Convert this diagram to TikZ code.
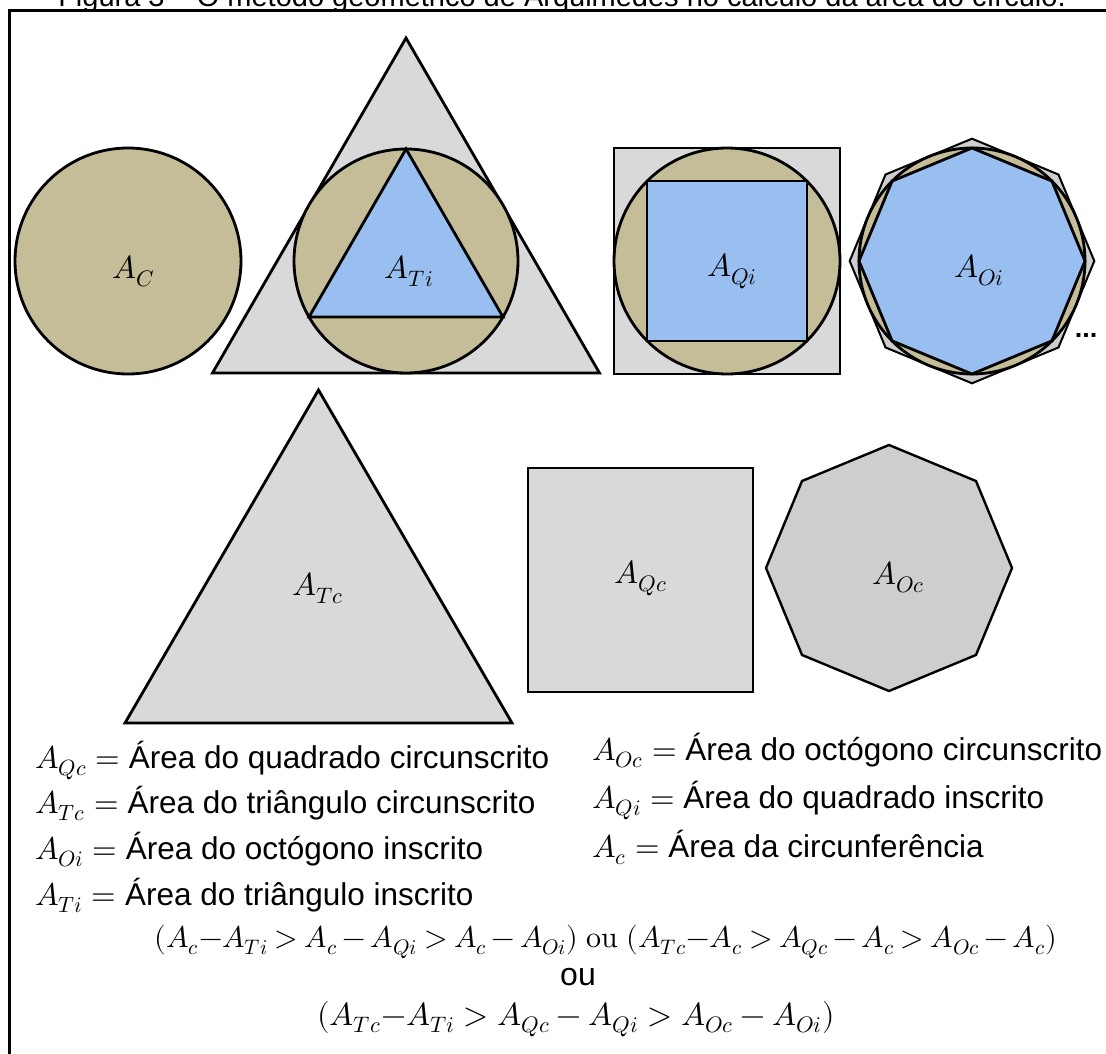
\documentclass[tikz,border=0pt]{standalone}
\usepackage{fontspec}
\usepackage{unicode-math}
\setmainfont{Liberation Sans}
\setmathfont{Latin Modern Math}
\definecolor{circtan}{RGB}{196,189,151}
\definecolor{inblue}{RGB}{153,191,240}
\definecolor{outgrey}{RGB}{217,217,217}
\definecolor{octgrey}{RGB}{206,206,206}
\begin{document}
\begin{tikzpicture}[x=1pt,y=-1pt,
  fig/.style={draw=black,line width=2.8pt,line join=miter},
  lbl/.style={font=\fontsize{32}{38}\selectfont,inner sep=0pt},
  txt/.style={font=\fontsize{31.5}{38}\selectfont,anchor=base west,inner sep=0pt}]
\useasboundingbox (0,0) rectangle (1106,1054);
\fill[white] (0,0) rectangle (1106,1054);
% frame and (cut) title
\draw[line width=3.5pt] (9.5,10.7) rectangle (1130,1080);
\node[anchor=base,font=\fontsize{29}{34}\selectfont,inner sep=0pt] (title) at (562,7)
  {Figura 3 – O método geométrico de Arquimedes no cálculo da área do círculo.};
% circle A_C
\draw[fig,fill=circtan] (128,261) circle[radius=113];
% triangle group
\draw[fig,fill=outgrey] (212.5,373) -- (599.5,373) -- (406,38) -- cycle;
\draw[fig,fill=circtan] (406,261) circle[radius=112];
\draw[fig,fill=inblue] (309,317) -- (503,317) -- (406,149) -- cycle;
% square group
\draw[fig,fill=outgrey] (614,148) rectangle (840,374);
\draw[fig,fill=circtan] (727,261) circle[radius=113];
\draw[fig,fill=inblue] (647,181) rectangle (807,341);
% octagon group
\begin{scope}[shift={(972,261)}]
\draw[fig,line width=2pt,fill=octgrey] (0:122.3) -- (45:122.3) -- (90:122.3) -- (135:122.3) -- (180:122.3) -- (225:122.3) -- (270:122.3) -- (315:122.3) -- cycle;
\draw[fig,fill=circtan] (0,0) circle[radius=113];
\draw[fig,fill=inblue] (0:113) -- (45:113) -- (90:113) -- (135:113) -- (180:113) -- (225:113) -- (270:113) -- (315:113) -- cycle;
\end{scope}
\node[anchor=base,font=\fontsize{27}{30}\selectfont\bfseries,inner sep=0pt] (dots) at (1086,337) {...};
% bottom row
\draw[fig,fill=outgrey] (125,723) -- (512,723) -- (318.5,390) -- cycle;
\draw[fig,fill=outgrey] (528,468) rectangle (753,692);
\begin{scope}[shift={(889,568)}]
\draw[fig,line width=2.4pt,fill=octgrey] (0:123) -- (45:123) -- (90:123) -- (135:123) -- (180:123) -- (225:123) -- (270:123) -- (315:123) -- cycle;
\end{scope}
% shape labels
\node[lbl] (AC)  at (134,271) {$A_C$};
\node[lbl] (ATi) at (409,271) {$A_{Ti}$};
\node[lbl] (AQi) at (732,271) {$A_{Qi}$};
\node[lbl] (AOi) at (979,270) {$A_{Oi}$};
\node[lbl] (ATc) at (318,588) {$A_{Tc}$};
\node[lbl] (AQc) at (641,578) {$A_{Qc}$};
\node[lbl] (AOc) at (898,577) {$A_{Oc}$};
% legend
\node[txt] (l1) at (35,768) {$A_{Qc} =$ Área do quadrado circunscrito};
\node[txt] (l2) at (35,813) {$A_{Tc} =$ Área do triângulo circunscrito};
\node[txt] (l3) at (35,859) {$A_{Oi} =$ Área do octógono inscrito};
\node[txt] (l4) at (35,905) {$A_{Ti} =$ Área do triângulo inscrito};
\node[txt] (r1) at (592,760) {$A_{Oc} =$ Área do octógono circunscrito};
\node[txt] (r2) at (592,808) {$A_{Qi} =$ Área do quadrado inscrito};
\node[txt] (r3) at (592,857) {$A_c =$ Área da circunferência};
% formulas
\node[anchor=base,inner sep=0pt,font=\fontsize{30}{36}\selectfont] (f1) at (606,947) {\thickmuskip=4mu\medmuskip=3mu$(A_c{-}A_{Ti} > A_c - A_{Qi} > A_c - A_{Oi})\ \symup{ou}\ (A_{Tc}{-}A_c > A_{Qc} - A_c > A_{Oc} - A_c)$};
\node[lbl,anchor=base] (ou) at (578,985) {ou};
\node[lbl,anchor=base] (f2) at (576,1025) {$(A_{Tc}{-}A_{Ti} > A_{Qc} - A_{Qi} > A_{Oc} - A_{Oi})$};
\end{tikzpicture}
\end{document}
